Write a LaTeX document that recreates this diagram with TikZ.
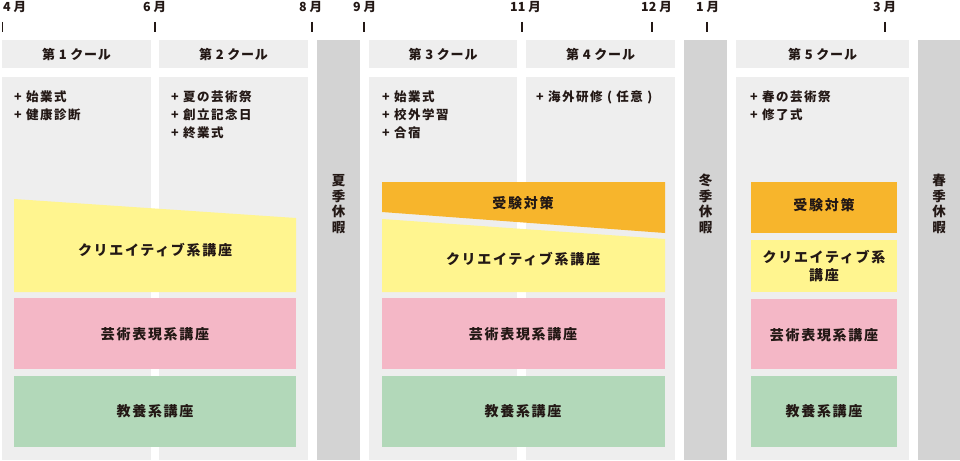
\documentclass[tikz,border=0pt]{standalone}
\usepackage{fontspec}
\setmainfont{Noto Sans CJK JP}
\definecolor{boxg}{HTML}{EEEEEE}
\definecolor{darkg}{HTML}{D3D3D3}
\definecolor{ylw}{HTML}{FFF58F}
\definecolor{pnk}{HTML}{F4B7C6}
\definecolor{grn}{HTML}{B2D8B9}
\definecolor{org}{HTML}{F7B52C}
\definecolor{ink}{HTML}{231815}
\tikzset{
  mon/.style={anchor=west,inner sep=0pt,text=ink,font=\fontsize{12.5}{14}\selectfont\bfseries},
  tickmark/.style={draw=ink,line width=1.6pt},
  hdr/.style={inner sep=0pt,text=ink,font=\fontsize{13}{15}\selectfont\bfseries\addfontfeature{LetterSpace=6}},
  evt/.style={anchor=west,inner sep=0pt,text=ink,font=\fontsize{12.5}{15}\selectfont\bfseries\addfontfeature{LetterSpace=12}},
  bartxt/.style={inner sep=0pt,text=ink,align=center,font=\fontsize{14}{18}\selectfont\bfseries\addfontfeature{LetterSpace=12}},
  vtxt/.style={inner sep=0pt,text=ink,align=center,font=\fontsize{13.5}{15.5}\selectfont\bfseries},
}
\begin{document}
\begin{tikzpicture}[x=1pt,y=-1pt]
\useasboundingbox (0,0) rectangle (960,460);
% month labels and ticks
\node[mon] (m4) at (3,7) {4 月};
\node[mon] (m6) at (143,7) {6 月};
\node[mon] (m8) at (299,7) {8 月};
\node[mon] (m9) at (353,7) {9 月};
\node[mon] (m11) at (510,7) {11 月};
\node[mon] (m12) at (641,7) {12 月};
\node[mon] (m1) at (696,7) {1 月};
\node[mon] (m3) at (873,7) {3 月};
\foreach \x in {2.5,155,312,364,522,652,707,885} \draw[tickmark] (\x,22) -- (\x,32);
% headers and content boxes
\foreach \a/\b in {2/151,159/308,369/517,526/675,736/909} {
  \fill[boxg] (\a,40) rectangle (\b,68);
  \fill[boxg] (\a,77) rectangle (\b,460);
}
\foreach \a/\b in {317/360,684/727,918/960} \fill[darkg] (\a,40) rectangle (\b,460);
\node[hdr] (h1) at (76.5,54) {第 1 クール};
\node[hdr] (h2) at (233.5,54) {第 2 クール};
\node[hdr] (h3) at (443,54) {第 3 クール};
\node[hdr] (h4) at (600.5,54) {第 4 クール};
\node[hdr] (h5) at (822.5,54) {第 5 クール};
% events
\node[evt] (e11) at (14,97) {+ 始業式};
\node[evt] (e12) at (14,115) {+ 健康診断};
\node[evt] (e21) at (171,97) {+ 夏の芸術祭};
\node[evt] (e22) at (171,115) {+ 創立記念日};
\node[evt] (e23) at (171,133) {+ 終業式};
\node[evt] (e31) at (382,97) {+ 始業式};
\node[evt] (e32) at (382,115) {+ 校外学習};
\node[evt] (e33) at (382,133) {+ 合宿};
\node[evt] (e41) at (536,97) {+ 海外研修 ( 任意 )};
\node[evt] (e51) at (750,97) {+ 春の芸術祭};
\node[evt] (e52) at (750,115) {+ 修了式};
% vacations
\node[vtxt] (v1) at (338.5,204) {夏\\季\\休\\暇};
\node[vtxt] (v2) at (705.5,204) {冬\\季\\休\\暇};
\node[vtxt] (v3) at (939,204) {春\\季\\休\\暇};
% left group
\fill[ylw] (14,199) -- (296,218) -- (296,292) -- (14,292) -- cycle;
\fill[pnk] (14,298) rectangle (296,369);
\fill[grn] (14,376) rectangle (296,447);
\node[bartxt] (l1) at (155,250) {クリエイティブ系講座};
\node[bartxt] (l2) at (155,334) {芸術表現系講座};
\node[bartxt] (l3) at (155,411) {教養系講座};
% middle group
\fill[org] (382,182) -- (665,182) -- (665,233) -- (382,212) -- cycle;
\fill[ylw] (382,219) -- (665,239) -- (665,292) -- (382,292) -- cycle;
\fill[pnk] (382,298) rectangle (665,369);
\fill[grn] (382,376) rectangle (665,447);
\node[bartxt] (c0) at (523,203) {受験対策};
\node[bartxt] (c1) at (523,259) {クリエイティブ系講座};
\node[bartxt] (c2) at (523,334) {芸術表現系講座};
\node[bartxt] (c3) at (523,411) {教養系講座};
% right group
\fill[org] (751,182) rectangle (897,233);
\fill[ylw] (751,240) rectangle (897,292);
\fill[pnk] (751,299) rectangle (897,369);
\fill[grn] (751,376) rectangle (897,447);
\node[bartxt] (r0) at (824,205) {受験対策};
\node[bartxt] (r1) at (824,266) {クリエイティブ系\\講座};
\node[bartxt] (r2) at (824,335) {芸術表現系講座};
\node[bartxt] (r3) at (824,411) {教養系講座};
\end{tikzpicture}
\end{document}
